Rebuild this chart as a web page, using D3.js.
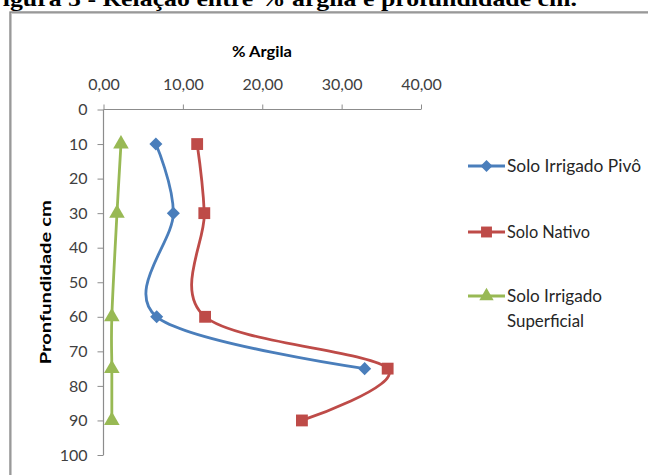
<!DOCTYPE html>
<html>
<head>
<meta charset="utf-8">
<script src="https://cdn.jsdelivr.net/npm/d3@7"></script>
<style>
  html, body { margin: 0; padding: 0; background: #fff; }
  svg { display: block; }
</style>
</head>
<body>
<svg id="chart" width="648" height="475"></svg>
<script>
// Depth of each sample (cm)
const depthPivo = [10, 30, 60, 75];
const depthNativo = [10, 30, 60, 75, 90];
const depthSuperficial = [10, 30, 60, 75, 90];

// Clay content (%) per depth
const argilaPivo = [6.6, 8.8, 6.7, 32.9];
const argilaNativo = [11.8, 12.7, 12.8, 35.8, 25.0];
const argilaSuperficial = [2.2, 1.7, 1.05, 1.05, 1.05];

const seriesNames = ["Solo Irrigado Pivô", "Solo Nativo", "Solo Irrigado Superficial"];
const xTicks = [0, 10, 20, 30, 40];
const yTicks = [0, 10, 20, 30, 40, 50, 60, 70, 80, 90, 100];

const svg = d3.select("#chart");
const font = "Lato, 'Open Sans', sans-serif";

// Caption above the chart frame
svg.append("text")
  .attr("x", -13).attr("y", 5.5)
  .attr("font-family", "'Liberation Serif', 'Times New Roman', serif")
  .attr("font-weight", "bold")
  .attr("font-size", 22)
  .attr("textLength", 590).attr("lengthAdjust", "spacingAndGlyphs")
  .attr("fill", "#000")
  .text("Figura 5 - Relação entre % argila e profundidade cm.");

// Chart frame
svg.append("rect")
  .attr("x", 11).attr("y", 13).attr("width", 700).attr("height", 600)
  .attr("fill", "none").attr("stroke", "#c8c8c8").attr("stroke-width", 2);
svg.append("rect")
  .attr("x", 10).attr("y", 12).attr("width", 700).attr("height", 600)
  .attr("fill", "none").attr("stroke", "#808080").attr("stroke-width", 1.3);

const x = d3.scaleLinear().domain([0, 40]).range([103.5, 421]);
const y = d3.scaleLinear().domain([0, 100]).range([109.5, 455]);

const axisColor = "#8c8c8c";
const commaFmt = d => d3.format(".2f")(d).replace(".", ",");

// Top value axis
const gx = svg.append("g").attr("transform", `translate(0,${y(0)})`)
  .call(d3.axisTop(x).tickValues(xTicks).tickSize(5).tickPadding(15).tickFormat(commaFmt));
gx.select(".domain").attr("stroke", axisColor).attr("stroke-width", 1.2)
  .attr("d", `M${x(0)},0H${x(40)}`);
gx.selectAll(".tick line").attr("stroke", axisColor);
gx.selectAll(".tick text").attr("font-family", font).attr("font-size", 16).attr("fill", "#404040");

// Left depth axis
const gy = svg.append("g").attr("transform", `translate(${x(0)},0)`)
  .call(d3.axisLeft(y).tickValues(yTicks).tickSize(6).tickPadding(10));
gy.select(".domain").attr("stroke", axisColor).attr("stroke-width", 1.2)
  .attr("d", `M0,${y(0)}V${y(100)}`);
gy.selectAll(".tick line").attr("stroke", axisColor);
gy.selectAll(".tick text").attr("font-family", font).attr("font-size", 16).attr("fill", "#404040");

// Axis titles
svg.append("text")
  .attr("x", 262).attr("y", 57)
  .attr("text-anchor", "middle")
  .attr("font-family", font).attr("font-weight", "bold").attr("font-size", 15)
  .attr("textLength", 60).attr("lengthAdjust", "spacingAndGlyphs")
  .attr("fill", "#000").text("% Argila");
svg.append("text")
  .attr("transform", `translate(51,${(y(0) + y(100)) / 2}) rotate(-90)`)
  .attr("text-anchor", "middle")
  .attr("font-family", font).attr("font-weight", "bold").attr("font-size", 16)
  .attr("textLength", 164).attr("lengthAdjust", "spacingAndGlyphs")
  .attr("fill", "#000").text("Pronfundidade cm");

// Marker shapes: diamond is a square turned 45 degrees
const series = [
  { name: seriesNames[0], color: "#4a7ebb", symbol: d3.symbolSquare, size: 85, rot: 45,
    pts: depthPivo.map((d, i) => ({ depth: d, v: argilaPivo[i] })) },
  { name: seriesNames[1], color: "#be4b48", symbol: d3.symbolSquare, size: 140, rot: 0,
    pts: depthNativo.map((d, i) => ({ depth: d, v: argilaNativo[i] })) },
  { name: seriesNames[2], color: "#98b954", symbol: d3.symbolTriangle, size: 105, rot: 0,
    pts: depthSuperficial.map((d, i) => ({ depth: d, v: argilaSuperficial[i] })) }
];

const line = d3.line()
  .x(p => x(p.v)).y(p => y(p.depth))
  .curve(d3.curveCatmullRom.alpha(0));

const plot = svg.append("g");
series.slice().reverse().forEach(s => {
  plot.append("path")
    .attr("d", line(s.pts))
    .attr("fill", "none").attr("stroke", s.color).attr("stroke-width", 2.8);
  plot.selectAll(null).data(s.pts).enter().append("path")
    .attr("transform", p => `translate(${x(p.v)},${y(p.depth)}) rotate(${s.rot})`)
    .attr("d", d3.symbol(s.symbol, s.size))
    .attr("fill", s.color);
});

// Legend
const legendRows = [
  { s: series[0], y: 166, lines: ["Solo Irrigado Pivô"], len: [134] },
  { s: series[1], y: 232, lines: ["Solo Nativo"], len: [83] },
  { s: series[2], y: 296, lines: ["Solo Irrigado", "Superficial"], len: [95, 77] }
];
legendRows.forEach(r => {
  const g = svg.append("g");
  g.append("line")
    .attr("x1", 468).attr("x2", 505).attr("y1", r.y).attr("y2", r.y)
    .attr("stroke", r.s.color).attr("stroke-width", 2.8);
  g.append("path")
    .attr("transform", `translate(486.5,${r.y}) rotate(${r.s.rot})`)
    .attr("d", d3.symbol(r.s.symbol, r.s.size * 0.85))
    .attr("fill", r.s.color);
  r.lines.forEach((t, i) => {
    g.append("text")
      .attr("x", 507).attr("y", r.y + 6 + i * 25)
      .attr("font-family", font).attr("font-size", 17)
      .attr("textLength", r.len[i]).attr("lengthAdjust", "spacingAndGlyphs")
      .attr("fill", "#262626").text(t);
  });
});
</script>
</body>
</html>
